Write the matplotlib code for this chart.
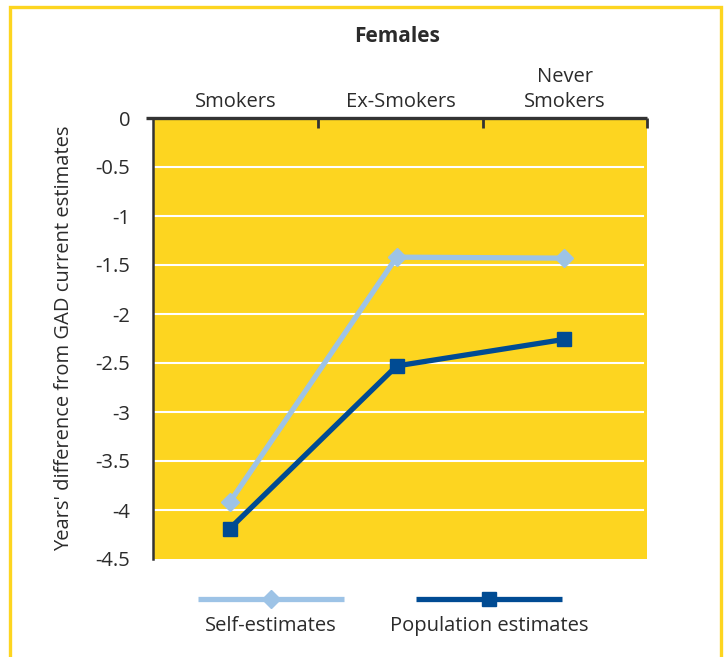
import matplotlib
matplotlib.use("Agg")
import matplotlib.pyplot as plt
from matplotlib.lines import Line2D
from matplotlib.ticker import FixedLocator

plt.rcParams['font.family'] = ['Open Sans', 'DejaVu Sans']

# Data
categories = ["Smokers", "Ex-Smokers", "Never\nSmokers"]
self_estimates = [-3.92, -1.42, -1.43]
population_estimates = [-4.19, -2.53, -2.26]
y_ticks = [0, -0.5, -1, -1.5, -2, -2.5, -3, -3.5, -4, -4.5]
y_tick_labels = ["0", "-0.5", "-1", "-1.5", "-2", "-2.5", "-3", "-3.5", "-4", "-4.5"]

YELLOW = "#FDD520"
LIGHT_BLUE = "#9DC3E6"
DARK_BLUE = "#004B93"
AXIS_GREY = "#333333"
TEXT = "#2b2b2b"
FS = 14.5

W, H = 726, 657
fig = plt.figure(figsize=(W / 100, H / 100), dpi=100)
fig.patch.set_facecolor("white")

# Yellow page frame (left, top and right edges)
fx0, fx1, fy1 = 10 / W, 721 / W, 1 - 7 / H
fig.add_artist(Line2D([fx0, fx0, fx1, fx1], [-0.02, fy1, fy1, -0.02],
                      transform=fig.transFigure, color=YELLOW, lw=2.4,
                      solid_joinstyle="miter"))

ax = fig.add_axes([153 / W, 1 - 559 / H, (647 - 153) / W, (559 - 118) / H])
ax.set_facecolor(YELLOW)

x = list(range(len(categories)))
xmin, xmax = -0.46, 2.5
ax.set_xlim(xmin, xmax)
ax.set_ylim(-4.5, 0)

# White horizontal gridlines
for yv in y_ticks[1:-1]:
    ax.axhline(yv, xmin=0, xmax=0.992, color="white", lw=1.5, zorder=1)

ax.plot(x, self_estimates, color=LIGHT_BLUE, lw=3.8, marker="D",
        markersize=9.5, zorder=3, solid_joinstyle="miter")
ax.plot(x, population_estimates, color=DARK_BLUE, lw=3.8, marker="s",
        markersize=9.5, zorder=4, solid_joinstyle="miter")

# Spines
for side in ("right", "bottom", "top"):
    ax.spines[side].set_visible(False)
ax.spines["left"].set_color(AXIS_GREY)
ax.spines["left"].set_linewidth(1.8)
ax.plot([-0.014, 1.0], [1, 1], transform=ax.transAxes, color=AXIS_GREY,
        lw=2.4, clip_on=False, zorder=5, solid_capstyle="butt")

# Category separators as inward ticks on the top axis
separators = [0.53, 1.515, xmax]
ax.xaxis.tick_top()
ax.set_xticks([])
ax.xaxis.set_minor_locator(FixedLocator(separators))
ax.tick_params(axis="x", which="minor", direction="in", length=7,
               width=2, color=AXIS_GREY, top=True)

# Category labels centred within their bands above the axis
edges = [xmin] + separators
for i, lab in enumerate(categories):
    cx = (edges[i] + edges[i + 1]) / 2
    ax.annotate(lab, xy=(cx, 1), xycoords=("data", "axes fraction"),
                xytext=(0, 4), textcoords="offset points",
                ha="center", va="bottom", fontsize=FS, color=TEXT,
                linespacing=1.35)

ax.set_yticks(y_ticks)
ax.set_yticklabels(y_tick_labels, fontsize=FS, color=TEXT)
ax.tick_params(axis="y", length=0, pad=16.5)
ax.set_ylabel("Years' difference from GAD current estimates", fontsize=FS,
              color=TEXT)
ax.yaxis.set_label_coords(-0.16, 0.5)

fig.text(397 / W, 1 - 37 / H, "Females", fontsize=15, fontweight="bold",
         color=TEXT, ha="center", va="center")

# Legend drawn below the plot
ly = 1 - 599 / H
for (x0, x1), col, mk, lab in [((198, 344), LIGHT_BLUE, "D", "Self-estimates"),
                                ((416, 562), DARK_BLUE, "s", "Population estimates")]:
    xm = (x0 + x1) / 2
    fig.add_artist(Line2D([x0 / W, xm / W, x1 / W], [ly, ly, ly],
                          transform=fig.transFigure, color=col, lw=3.8,
                          marker=mk, markersize=9.5, markevery=[1],
                          solid_capstyle="butt"))
    fig.text(xm / W, 1 - 626 / H, lab, fontsize=FS, color=TEXT,
             ha="center", va="center")

fig.savefig("out.png", dpi=100, facecolor="white")
